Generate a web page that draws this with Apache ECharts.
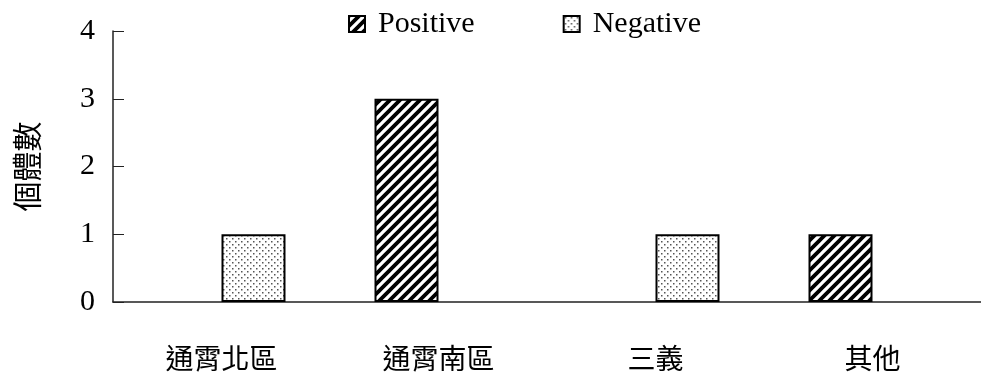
<!DOCTYPE html>
<html>
<head>
<meta charset="utf-8">
<script src="https://cdn.jsdelivr.net/npm/echarts@6/dist/echarts.min.js"></script>
<style>
  html, body { margin: 0; padding: 0; background: #fff; }
  #chart { width: 981px; height: 382px; }
</style>
</head>
<body>
<div id="chart"></div>
<script>
// Sampling areas and individual counts by test result
const categories = ['通霄北區', '通霄南區', '三義', '其他'];
const positiveCounts = [0, 3, 0, 1];
const negativeCounts = [1, 0, 1, 0];
const yTicks = [0, 1, 2, 3, 4];
const yAxisTitle = '個體數';
const seriesNames = ['Positive', 'Negative'];

// Diagonal hatch fill ("/" stripes that tile seamlessly)
function hatchPattern() {
  const s = 10;
  const c = document.createElement('canvas');
  c.width = s; c.height = s;
  const g = c.getContext('2d');
  g.fillStyle = '#fff';
  g.fillRect(0, 0, s, s);
  g.strokeStyle = '#000';
  g.lineWidth = 3.8;
  g.lineCap = 'square';
  g.beginPath();
  for (let k = 0; k <= 2; k++) {
    // line x + y = k * s
    g.moveTo(k * s + s, -s);
    g.lineTo(k * s - 2 * s, 2 * s);
  }
  g.stroke();
  return c;
}

// Fine dotted fill
function dotPattern() {
  const s = 6;
  const c = document.createElement('canvas');
  c.width = s; c.height = s;
  const g = c.getContext('2d');
  g.fillStyle = '#fff';
  g.fillRect(0, 0, s, s);
  g.fillStyle = '#555';
  g.fillRect(1, 1, 1.5, 1.5);
  g.fillRect(4, 4, 1.5, 1.5);
  return c;
}

// Empty bars keep their slot but draw no outline on the axis
function barData(values) {
  return values.map(v => v === 0 ? { value: v, itemStyle: { borderWidth: 0 } } : v);
}

const serif = '"Liberation Serif", "Times New Roman", serif';
const cjk = '"Noto Sans CJK TC", sans-serif';

const chart = echarts.init(document.getElementById('chart'), null, { renderer: 'canvas' });
chart.setOption({
  animation: false,
  backgroundColor: '#fff',
  legend: {
    top: 4,
    left: 343,
    itemWidth: 16,
    itemHeight: 16,
    itemGap: 88,
    icon: 'rect',
    textStyle: { fontFamily: serif, fontSize: 30, color: '#000', padding: [0, 0, 0, 8] },
    data: seriesNames
  },
  grid: { left: 113, top: 31, bottom: 80, width: 872 },
  xAxis: {
    type: 'category',
    data: categories,
    axisLine: { lineStyle: { color: '#222', width: 1.5 } },
    axisTick: { inside: true, length: 11, lineStyle: { color: '#333', width: 1 } },
    axisLabel: { fontFamily: cjk, fontSize: 28, color: '#000', margin: 42 }
  },
  yAxis: {
    type: 'value',
    min: yTicks[0],
    max: yTicks[yTicks.length - 1],
    interval: 1,
    name: yAxisTitle,
    nameLocation: 'middle',
    nameRotate: 90,
    nameGap: 71,
    nameTextStyle: { fontFamily: cjk, fontSize: 30, color: '#000' },
    axisLine: { show: true, lineStyle: { color: '#222', width: 1.5 } },
    axisTick: { show: true, inside: true, length: 11, lineStyle: { color: '#222', width: 1 } },
    splitLine: { show: false },
    axisLabel: { fontFamily: serif, fontSize: 30, color: '#000', margin: 18 }
  },
  series: [
    {
      name: seriesNames[0],
      type: 'bar',
      data: barData(positiveCounts),
      barWidth: 64,
      barGap: '0%',
      itemStyle: {
        color: { image: hatchPattern(), repeat: 'repeat' },
        borderColor: '#000',
        borderWidth: 2
      }
    },
    {
      name: seriesNames[1],
      type: 'bar',
      data: barData(negativeCounts),
      barWidth: 64,
      barGap: '0%',
      itemStyle: {
        color: { image: dotPattern(), repeat: 'repeat' },
        borderColor: '#000',
        borderWidth: 2
      }
    }
  ]
});
</script>
</body>
</html>
